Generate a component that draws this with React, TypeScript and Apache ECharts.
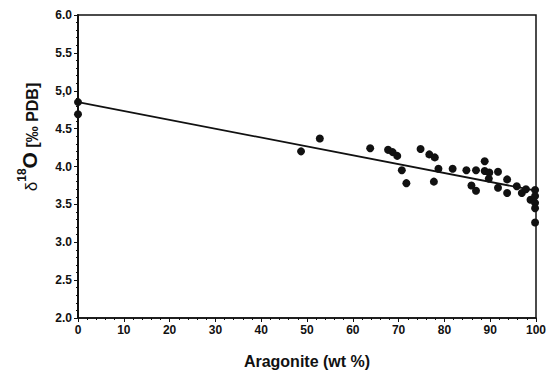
import React, { useEffect, useRef } from "react";
import * as echarts from "echarts";

const aragonite = [0, 0, 48.7, 52.8, 63.8, 67.7, 68.7, 69.7, 70.7, 71.7, 74.8, 76.7, 77.9, 78.7, 77.7, 81.8, 84.8, 85.9, 86.9, 86.9, 88.8, 88.8, 89.8, 89.7, 91.7, 91.7, 93.7, 93.7, 95.8, 96.9, 97.8, 98.8, 99.8, 99.8, 99.8, 99.8, 99.8];
const d18O = [4.85, 4.69, 4.2, 4.37, 4.24, 4.22, 4.19, 4.14, 3.95, 3.78, 4.23, 4.16, 4.12, 3.97, 3.8, 3.97, 3.95, 3.75, 3.68, 3.95, 4.07, 3.94, 3.92, 3.84, 3.93, 3.72, 3.83, 3.65, 3.74, 3.65, 3.7, 3.56, 3.69, 3.61, 3.52, 3.45, 3.26];
const fitX = [0, 100];
const fitY = [4.85, 3.68];
const yTickValues = [2, 2.5, 3, 3.5, 4, 4.5, 5, 5.5, 6];
const yTickLabels = ["2.0", "2.5", "3.0", "3.5", "4.0", "4.5", "5,0", "5.5", "6.0"];

export default function App() {
  const ref = useRef<HTMLDivElement>(null);
  useEffect(() => {
    const chart = echarts.init(ref.current!, null, { renderer: "svg" });
    const font = "Liberation Sans, Arial, sans-serif";
    const ink = "#111111";
    chart.setOption({
      animation: false,
      backgroundColor: "#ffffff",
      grid: {
        left: 78,
        right: 15,
        top: 15,
        bottom: 57,
        show: true,
        borderColor: ink,
        borderWidth: 1.5,
        backgroundColor: "transparent",
      },
      graphic: [
        {
          type: "text",
          x: 28,
          y: 137,
          rotation: Math.PI / 2,
          style: {
            text: "{d|δ}{s|18}{o|O}{n| [‰ PDB]}",
            align: "center",
            verticalAlign: "middle",
            fill: ink,
            rich: {
              d: { fontFamily: font, fontSize: 17, fontWeight: "normal", fill: ink, verticalAlign: "bottom", lineHeight: 24 },
              s: { fontFamily: font, fontSize: 12, fontWeight: "bold", fill: ink, verticalAlign: "top", lineHeight: 24 },
              o: { fontFamily: font, fontSize: 21, fontWeight: "bold", fill: ink, verticalAlign: "bottom", lineHeight: 24 },
              n: { fontFamily: font, fontSize: 16, fontWeight: "bold", fill: ink, verticalAlign: "bottom", lineHeight: 24 },
            },
          },
        },
      ],
      xAxis: {
        type: "value",
        min: 0,
        max: 100,
        interval: 10,
        name: "Aragonite (wt %)",
        nameLocation: "middle",
        nameGap: 35,
        nameTextStyle: { fontFamily: font, fontWeight: "bold", fontSize: 16, color: ink },
        axisLine: { show: true, lineStyle: { color: ink, width: 1.5 } },
        axisTick: { show: true, length: 4, lineStyle: { color: ink } },
        minorTick: { show: true, splitNumber: 5, length: 2, lineStyle: { color: ink } },
        splitLine: { show: false },
        axisLabel: { fontFamily: font, fontWeight: "bold", fontSize: 12, color: ink, margin: 6 },
      },
      yAxis: {
        type: "value",
        min: 2,
        max: 6,
        interval: 0.5,
        axisLine: { show: true, lineStyle: { color: ink, width: 2 } },
        axisTick: { show: true, length: 4, lineStyle: { color: ink } },
        minorTick: { show: true, splitNumber: 5, length: 2, lineStyle: { color: ink } },
        splitLine: { show: false },
        axisLabel: {
          fontFamily: font,
          fontWeight: "bold",
          fontSize: 12,
          color: ink,
          margin: 6,
          formatter: (v: number) => {
            const i = yTickValues.findIndex((t) => Math.abs(t - v) < 1e-6);
            return i >= 0 ? yTickLabels[i] : "";
          },
        },
      },
      series: [
        {
          type: "line",
          data: fitX.map((x, i) => [x, fitY[i]]),
          symbol: "none",
          lineStyle: { color: ink, width: 1.8 },
          z: 2,
        },
        {
          type: "scatter",
          data: aragonite.map((x, i) => [x, d18O[i]]),
          symbol: "circle",
          symbolSize: 8,
          itemStyle: { color: ink, opacity: 1 },
          z: 3,
        },
      ],
    });
    return () => chart.dispose();
  }, []);
  return <div ref={ref} style={{ width: 551, height: 375, position: "absolute", left: 0, top: 0 }} />;
}
